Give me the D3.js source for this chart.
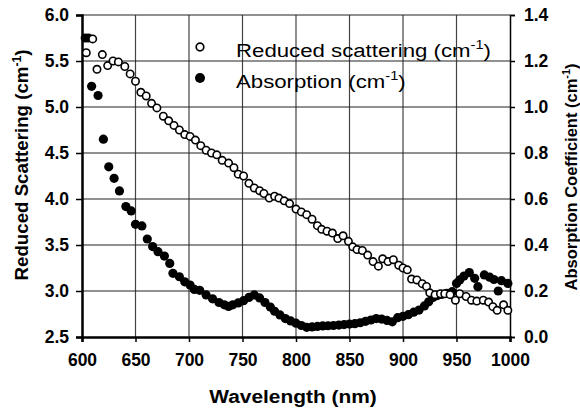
<!DOCTYPE html>
<html><head><meta charset="utf-8">
<script src="https://cdn.jsdelivr.net/npm/d3@7"></script>
<style>
html,body{margin:0;padding:0;background:#fff;}
svg{display:block;font-family:"Liberation Sans",Arial,sans-serif;}
</style></head>
<body>
<svg id="chart" width="580" height="416"></svg>
<script>
// ---- data ----
const scatWavelength = [604,610,614,619,624,629,634,640,645,650,655,660,665,670,676,681,686,691,696,701,706,711,716,721,726,731,737,742,746,751,756,761,766,770,775,780,784,789,794,800,805,810,815,820,824,829,834,839,844,849,853,857,862,867,872,877,881,886,891,896,900,904,908,913,918,922,925,930,935,939,944,949,953,959,964,969,975,980,984,988,994,998];
const scatValues = [5.59,5.74,5.41,5.57,5.45,5.50,5.49,5.44,5.36,5.28,5.16,5.12,5.04,4.99,4.90,4.85,4.80,4.75,4.70,4.68,4.64,4.58,4.53,4.50,4.48,4.42,4.39,4.34,4.27,4.25,4.17,4.12,4.09,4.06,4.01,4.03,4.01,3.98,3.95,3.89,3.86,3.83,3.78,3.71,3.67,3.65,3.63,3.57,3.60,3.54,3.48,3.45,3.44,3.39,3.32,3.27,3.35,3.32,3.34,3.28,3.25,3.23,3.13,3.12,3.08,3.05,2.98,2.96,2.97,2.97,2.96,2.90,2.97,2.94,2.90,2.89,2.90,2.88,2.83,2.79,2.85,2.79];
const absWavelength = [603,606,609,615,620,625,630,635,641,646,650,656,661,666,671,677,682,685,691,696,701,705,710,716,722,728,733,737,741,746,751,756,761,766,771,776,780,785,790,795,800,805,810,815,820,825,830,835,840,845,850,855,860,865,870,875,880,885,890,895,900,905,910,915,920,924,928,932,936,941,946,950,953,957,962,967,970,976,981,985,989,992,998];
const absValues = [1.30,1.30,1.09,1.05,0.86,0.74,0.69,0.635,0.567,0.548,0.49,0.483,0.426,0.393,0.371,0.352,0.32,0.277,0.262,0.24,0.226,0.207,0.203,0.183,0.166,0.150,0.140,0.133,0.140,0.148,0.158,0.172,0.183,0.170,0.150,0.130,0.112,0.096,0.080,0.070,0.060,0.050,0.042,0.044,0.046,0.048,0.049,0.050,0.052,0.054,0.056,0.058,0.062,0.068,0.074,0.080,0.078,0.072,0.066,0.084,0.090,0.097,0.108,0.117,0.135,0.153,0.172,0.180,0.185,0.190,0.197,0.233,0.248,0.265,0.280,0.255,0.219,0.270,0.260,0.250,0.200,0.245,0.233];
const xTicks = [600,650,700,750,800,850,900,950,1000];
const yLeftTicks = [2.5,3.0,3.5,4.0,4.5,5.0,5.5,6.0];
const yRightTicks = [0.0,0.2,0.4,0.6,0.8,1.0,1.2,1.4];
const legendLabels = ["Reduced scattering (cm", "Absorption (cm"];

// ---- layout ----
const svg = d3.select("#chart");
const L = 82, R = 510, T = 15, B = 337;
const x = d3.scaleLinear().domain([600,1000]).range([L,R]);
const yL = d3.scaleLinear().domain([2.5,6.0]).range([B,T]);
const yR = d3.scaleLinear().domain([0,1.4]).range([B,T]);

// grid lines from the scales (behind the data)
const gridG = svg.append("g");
gridG.selectAll("line.vg").data(xTicks.slice(1,-1)).join("line").attr("class","vg")
  .attr("x1",d=>x(d)).attr("x2",d=>x(d)).attr("y1",T).attr("y2",B)
  .attr("stroke","#444").attr("stroke-width",1.2);
gridG.selectAll("line.hg").data(yLeftTicks.slice(1)).join("line").attr("class","hg")
  .attr("x1",L).attr("x2",R).attr("y1",d=>yL(d)).attr("y2",d=>yL(d))
  .attr("stroke","#222").attr("stroke-width",1.2);

// axes
const fmt = d3.format(".1f");
const axL = svg.append("g").attr("transform",`translate(${L},0)`)
  .call(d3.axisLeft(yL).tickValues(yLeftTicks).tickFormat(fmt).tickSize(6).tickPadding(7));
const axR = svg.append("g").attr("transform",`translate(${R},0)`)
  .call(d3.axisRight(yR).tickValues(yRightTicks).tickFormat(fmt).tickSize(5).tickPadding(9));
const axB = svg.append("g").attr("transform",`translate(0,${B})`)
  .call(d3.axisBottom(x).tickValues(xTicks).tickFormat(d3.format("d")).tickSize(5).tickPadding(12));
[axL,axR,axB].forEach(a=>{
  a.select(".domain").attr("stroke","#000");
  a.selectAll(".tick line").attr("stroke","#000").attr("stroke-width",1.5);
  a.selectAll(".tick text").attr("fill","#000").attr("font-size",17.5).attr("font-weight","bold")
    .attr("font-family","'Liberation Sans',Arial,sans-serif");
});
axL.select(".domain").attr("stroke-width",2.5);
axB.select(".domain").attr("stroke-width",2.5);
axR.select(".domain").attr("stroke-width",1.5);

// data
svg.append("g").selectAll("circle").data(absWavelength.map((w,i)=>[w,absValues[i]])).join("circle")
  .attr("cx",d=>x(d[0])).attr("cy",d=>yR(d[1])).attr("r",4.6).attr("fill","#000");
svg.append("g").selectAll("circle").data(scatWavelength.map((w,i)=>[w,scatValues[i]])).join("circle")
  .attr("cx",d=>x(d[0])).attr("cy",d=>yL(d[1])).attr("r",3.7)
  .attr("fill","#fff").attr("stroke","#000").attr("stroke-width",1.6);

// legend
const lg = svg.append("g");
lg.append("circle").attr("cx",200).attr("cy",47).attr("r",3.8).attr("fill","#fff").attr("stroke","#000").attr("stroke-width",1.7);
lg.append("circle").attr("cx",200).attr("cy",78).attr("r",5).attr("fill","#000");
legendLabels.forEach((t,i)=>{
  const tx = lg.append("text").attr("transform",`translate(236,${57+i*31}) scale(1.17,1)`)
    .attr("font-size",19).attr("fill","#000");
  tx.append("tspan").text(t);
  tx.append("tspan").attr("dy",-8).attr("font-size",12.5).text("-1");
  tx.append("tspan").attr("dy",8).text(")");
});

// axis titles
function title(txt, tx, ty, rot, size, sx){
  const t = svg.append("text").attr("transform",`translate(${tx},${ty}) rotate(${rot}) scale(${sx},1)`)
    .attr("text-anchor","middle").attr("font-size",size).attr("font-weight","bold").attr("fill","#000");
  t.append("tspan").text(txt);
  if (txt.endsWith("(cm")) {
    t.append("tspan").attr("dy",-7).attr("font-size",size*0.65).text("-1");
    t.append("tspan").attr("dy",7).text(")");
  }
  return t;
}
title("Reduced Scattering (cm", 28, 165, -90, 18.7, 1);
title("Absorption Coefficient (cm", 577, 177, -90, 16.5, 1);
title("Wavelength (nm)", 293, 403, 0, 18, 1.16);
</script>
</body></html>
